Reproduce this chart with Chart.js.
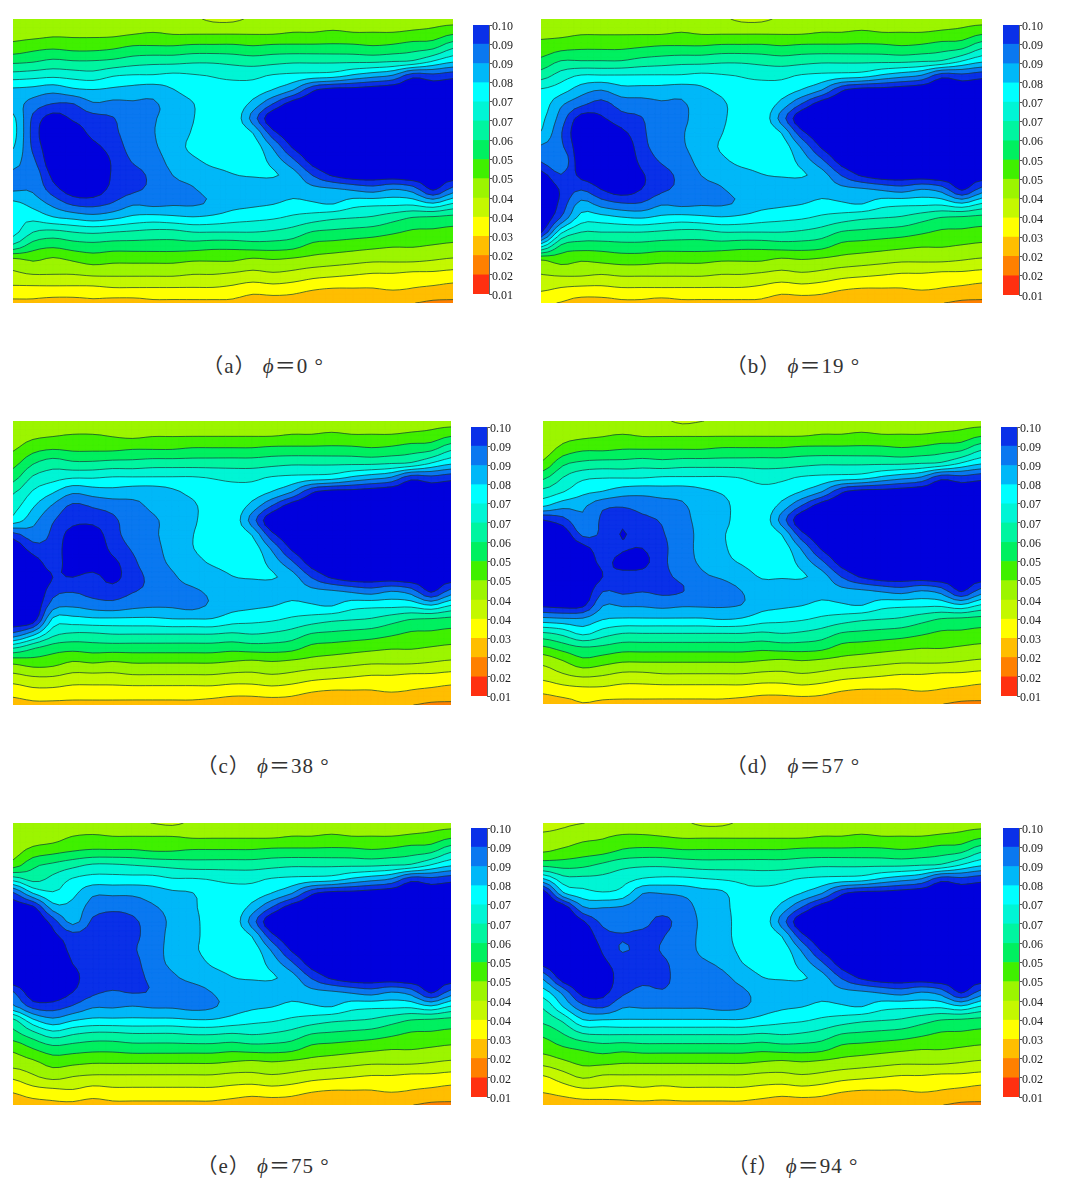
<!DOCTYPE html>
<html>
<head>
<meta charset="utf-8">
<title>Contours at six phase angles</title>
<script src="https://cdn.jsdelivr.net/npm/chart.js@4/dist/chart.umd.min.js"></script>
<style>
  html, body { margin: 0; background: #fff; }
  #page { position: relative; width: 1078px; height: 1197px; overflow: hidden; }
  #page canvas { position: absolute; }
  .field { filter: blur(0.5px); }
  .caption { position: absolute; width: 240px; text-align: center; white-space: pre; letter-spacing: 1px;
    font: 21px "Liberation Serif", "Noto Sans CJK SC", serif; color: #333; }
  .caption i { font-style: italic; }
</style>
</head>
<body>
<div id="page"></div>
<script>
var bandEdges = [10, 16.4, 22.9, 29.3, 35.7, 42.1, 48.6, 55, 61.4, 67.9, 74.3, 80.7, 87.1, 93.6, 100];
var tickLabels = ['0.01', '0.02', '0.02', '0.03', '0.04', '0.04', '0.05', '0.05', '0.06', '0.07', '0.07', '0.08', '0.09', '0.09', '0.10'];
var bandColors = ['#ff3010', '#ff8000', '#ffbe00', '#ffff00', '#c4f800', '#9cf500', '#40f000', '#00f060',
  '#00f5a0', '#00f5d5', '#00ffff', '#00b8f8', '#0a78f0', '#0a30e8'];
var coreColor = '#0000dd'; // anything over the top of the colour bar

var captionLetters = ['a', 'b', 'c', 'd', 'e', 'f'];
var phiValues = [0, 19, 38, 57, 75, 94];

// right part of the plot hardly changes between the angles (one list per column)
var wakeColumns = [
  [43,48,56,65,73,77,83,90,81,77,77,80,85,82,76,68,58,47,40,32,26],
  [43,48,57,66,75,81,94,106,98,88,83,80,85,81,75,67,58,48,41,33,26],
  [44,49,57,67,76,87,104,108,106,101,92,84,83,79,73,65,57,47,40,32,26],
  [44,49,57,67,77,99,106,110,110,107,103,94,85,80,71,61,53,46,38,30,24],
  [44,50,57,67,78,103,108,110,110,110,106,101,86,81,69,60,52,45,37,29,24],
  [44,49,57,67,82,103,108,110,110,110,108,104,88,77,68,59,51,44,36,29,25],
  [44,49,56,67,85,104,108,110,110,110,108,104,90,76,67,58,50,43,35,29,24],
  [44,49,57,68,88,105,108,110,110,110,108,104,87,76,64,56,49,43,35,30,23],
  [45,50,59,69,98,106,108,110,110,110,108,105,90,76,61,54,49,43,34,29,23],
  [46,51,60,75,96,104,108,110,110,110,108,104,101,80,60,54,48,42,34,28,22],
  [46,54,67,80,98,105,108,110,110,110,108,104,91,74,59,53,47,41,33,27,22]
];

var phi0Columns = [
  [43,46,51,60,71,82,84,79,78,80,85,88,88,79,76,76.5,66,46,41,34,28],
  [43,46,53,61,72,83,90,95,96,95,92,89,88,83,76,68,58,49,42,34,28],
  [43,47,54,63,73,85,94,103,106,105,105,102,97,89,80,66,56,47,42,34,27],
  [43,47,53,62,72,82,94,99,104,106,108,108,104,95,82,68,58,49,42,34,27],
  [43,47,53,62,71,81,88,96,98,102,106,107,104,96,84,69,59,51,43,34,28],
  [43,47,54,63,74,82,89,94,95,97,99,99,98,93,82,68,58,50,43,35,27],
  [43,48,56,65,75,83,88,89,90,91,93,96,95,88,79,67,58,50,43,35,27],
  [43,49,56,66,75,84,88,87.5,87.3,88,90,92,92,89,78,66,58,50,43,35,28],
  [43,48,56,66,76,81,84,85,85,84,85,87,89,88,79,66,58,50,43,35,28],
  [43,48,57,67,75,78,81,81,80,79,82,85,87.5,88,80,68,58,49,42,35,28],
  [41,48,57,67,74,76,76,76,76,77,79,83,85,86,79,68,57,49,42,35,28],
  [41,48,57,66,73,76,76,76,76,76,78,81,84,83,77,68,57,49,41,34,28]
];
var phi19Columns = [
  [44,47,51,57,65,75,77,79,81,88,93,103,108,108,107,101,76,48,42,37,30],
  [44,47,53,62,71,78,86,90,93,92,88,94,99,98,93,76,60,51,43,35,29],
  [44,48,54,62,75,84,92,103,106,105,105,102,94,85,78,68,58,49,43,34,27],
  [44,48,54,62,75,87,96,101,106,108,108,105,100,90,78,68,58,50,42,34,27],
  [44,48,54,62,75,83,91,96,102,107,108,108,104,93,80,68,59,51,43,35,28],
  [44,48,55,64,75,83,90,94,95,96,98,101,100,93,81,68,59,51,43,35,28],
  [44,48,56,65,75,83,88,89,90,91,93,96,95,88,79,67,58,50,43,35,27],
  [44,49,56,66,75,84,88,88,87.5,88,90,92,92,89,78,66,58,50,43,35,28],
  [43,48,56,66,76,82,84,85,85,84,85,87,89,88,79,66,58,50,43,35,28],
  [43,48,57,67,75,79,82,82,81,80,82,85,87.5,88,80,68,58,49,42,35,28],
  [41,48,57,67,74,76,77,77,77,77,79,83,85,86,79,68,57,49,42,35,28],
  [41,48,57,66,73,76,76,76,76,76,78,81,84,83,77,68,57,49,41,34,28]
];
var phi38Columns = [
  [43,45,48,53,59,67,72,77,96,106,108,110,110,110,106,92,68,50,40,32,27],
  [43,47,53,61,69,75,80,85,90,97,104,107,108,107,104,83,62,52,42,34,28],
  [43,48,55,65,72,80,88,93,95,96,97,100,96,90,79,70,58,51,42,34,28],
  [43,49,54,63,74,86,95,98,103,105,104,100,94,88,78,67,57,48,40,33,28],
  [43,49,54,63,74,84,93,98,104,106,104,98,96,90,79,67,58,49,40,33,28],
  [43,48,54,64,75,83,91,95,96,98,102,102,97,91,79,68,58,48,40,33,28],
  [43,47,55,64,75,84,89,90,91,93,95,96,94,89,79,68,58,49,41,33,28],
  [43,48,55,65,75,84,86,88,88,89,90,92,92,88,79,68,58,49,41,33,28],
  [43,48,55,65,75,82,84,85,85,85,86,88,89,88,80,68,58,49,41,33,28],
  [43,48,56,65,75,79,82,82,81,81,83,85,88,89,80,68,58,49,41,33,28],
  [43,48,56,65,74,77,77,77,77,78,80,84,86,86,80,68,58,49,41,33,27],
  [43,48,56,65,73,76,76,76,76,76,78,81,84,83,77,67,57,48,40,32,26]
];
var phi57Columns = [
  [43,43,45,50,60,70,80,100,106,108,110,110,110,102,85,67,54,44,38,31,26],
  [43,46,51,60,68,74,85,96,105,108,110,110,108,103,86,70,58,48,41,33,27],
  [43,47,54,63,73,79,86,88,92,103,107,108,106,102,86,76,61,53,43,34,29],
  [43,48,54,64,74,81,92,95,95,96,98,100,94,87.5,81,71,60,51,42,34,28],
  [43,49,55,64,74,84,93,98,100.5,99,103,97,95,88,80,68,58,49,40,33,28],
  [43,48,55,65,74,85,91,95,96,100,102,97,94,88,80,68,58,49,40,33,28],
  [43,48,55,64,75,84,90,93,94,95,95,95,95,89,80,68,58,49,41,33,28],
  [41,48,55,65,75,84,88,89,90,90,90,92,94,88,80,68,58,49,41,33,28],
  [42,48,55,65,75,82,84,85,85,85,86,88,89,88,80,68,58,49,41,33,28],
  [43,48,56,65,75,80,83,83,81.5,82,83,86.5,89,88,81,68,58,49,41,33,28],
  [43,48,56,65,74,77,77,77,77,77,80,84,87,87,80,68,58,49,41,33,27],
  [43,48,56,65,72,76,76,76,76,76,77,80,84,83,77,67,57,48,40,32,26]
];
var phi75Columns = [
  [43,44,46,52,72,95,104,108,109,110,109,106,93,86,66,59,50,45,37,30,26],
  [43,45,51,60,66,81,102,108,110,110,110,109,105,96,79,65,55,47,41,33,27],
  [43,46,53,63,70,75,84,97,102,106,107,108,105,97,85,71,59,51,44,34,28],
  [43,49,55,66,75,79,83,85,96,98,100,102,100,93,81,68,58,50,42,35,28],
  [43,50,56,69,77,86,90,95,97,98,98,97,95,88,79,66,57,49,41,33,27],
  [43,49,56,69,77,86,92,97,98,98,98,97,93,88,79,66,57,49,41,34,28],
  [43,49,56,68,77,86,91,95,95,94.5,96,96,94,87,79,67,58,49,41,34,28],
  [42,49,55,67,77,84,88,90,91,90,90,92,93,88,79,67,58,49,41,34,28],
  [41,49,55,66,75,82,85,86,85,85,86,88,89,88,79,67,58,49,41,34,28],
  [43,48,56,65,75,81,82,83,83,82,84,86,89,89,80,68,58,49,41,34,28],
  [43,48,56,65,74,77,77,77,77,78,80,84,87,88,80,68,58,49,41,34,28],
  [43,48,56,65,73,76,76,76,76,76,78,81,84,84,78,67,57,48,40,33,27]
];
var phi94Columns = [
  [39,44,48,60,82,105,109,110,110,108,102,88,78,69,63,56,51,44,35,30,25],
  [41,45,50,59,71,82,105,109,110,110,109,104,89,81,69,61,54,47,39,32,26],
  [42,47,52,60,70,77,88,101,106,109,110,108,103,92,80,67,56,50,43,34,27],
  [43,48,53,63,70,75,87,92,96,99,102,104,102,95,80,68,58,50,41,34,27],
  [43,50,56,66,72,77,88,91,94,93,97,97,95,88,80,68,57,49,41,33,28],
  [43,50,57,67,75,87,91,92,95,96,96,95,92,88,80,68,58,49,41,34,28],
  [43,49,57,67,76,87,91,95,94,93,95,95,93,88,80,68,58,49,41,33,28],
  [43,48,56,66,76,86,90,91,90,90,90,91,91,88,80,68,58,49,41,34,28],
  [41,48,56,65,75,83,85,86,86,86,88,89,90,88,80,68,58,49,41,34,28],
  [41,48,56,65,74,82,83,84,84,84,86,88.5,89,89,80,68,58,49,41,34,28],
  [43,48,56,65,73,76,77,77,77,79,81,85,88,88,80,68,58,49,41,34,28],
  [43,48,56,65,72,76,76,76,76,76,78,81,85,84,78,67,57,48,40,33,27]
];

var leftColumns = [phi0Columns, phi19Columns, phi38Columns, phi57Columns, phi75Columns, phi94Columns];

// where each panel sits on the page: plot box, colour bar, caption centre
var panelBoxes = [
  { x: 13, y: 19, w: 440, h: 284, barX: 473, barY: 25, barH: 269, capX: 263, capY: 350 },
  { x: 541, y: 19, w: 441, h: 284, barX: 1003, barY: 25, barH: 270, capX: 793, capY: 350 },
  { x: 13, y: 421, w: 438, h: 284, barX: 471, barY: 427, barH: 269, capX: 263, capY: 750 },
  { x: 543, y: 421, w: 438, h: 283, barX: 1001, barY: 427, barH: 269, capX: 793, capY: 750 },
  { x: 13, y: 823, w: 438, h: 282, barX: 471, barY: 828, barH: 269, capX: 263, capY: 1150 },
  { x: 543, y: 823, w: 438, h: 282, barX: 1003, barY: 828, barH: 269, capX: 793, capY: 1150 }
];

var drawSteps = 3; // contour tracing steps per grid cell

// Catmull-Rom weight, only used while tracing the contours
function cr(a, b, c, d, t) {
  return b + 0.5 * t * (c - a + t * (2 * a - 5 * b + 4 * c - d + t * (3 * (b - c) + d - a)));
}

function traceGrid(pts, nx, ny) {
  var at = function (i, j) {
    i = Math.max(0, Math.min(nx - 1, i));
    j = Math.max(0, Math.min(ny - 1, j));
    return pts[i * ny + j].v;
  };
  var mx = (nx - 1) * drawSteps + 1, my = (ny - 1) * drawSteps + 1;
  var out = [];
  for (var a = 0; a < mx; a++) {
    var i0 = Math.min(Math.floor(a / drawSteps), nx - 2), tx = a / drawSteps - i0;
    var col = [];
    for (var b = 0; b < my; b++) {
      var j0 = Math.min(Math.floor(b / drawSteps), ny - 2), ty = b / drawSteps - j0;
      var r = [];
      for (var k = -1; k <= 2; k++) {
        r.push(cr(at(i0 - 1, j0 + k), at(i0, j0 + k), at(i0 + 1, j0 + k), at(i0 + 2, j0 + k), tx));
      }
      col.push(cr(r[0], r[1], r[2], r[3], ty));
    }
    out.push(col);
  }
  return out;
}

// part of one grid cell at or above the level, corners given clockwise
function clipCell(xs, ys, vs, level) {
  var out = [];
  for (var k = 0; k < 4; k++) {
    var n = (k + 1) % 4;
    var inK = vs[k] >= level, inN = vs[n] >= level;
    if (inK) out.push([xs[k], ys[k]]);
    if (inK !== inN) {
      var t = (level - vs[k]) / (vs[n] - vs[k]);
      out.push([xs[k] + t * (xs[n] - xs[k]), ys[k] + t * (ys[n] - ys[k])]);
    }
  }
  return out;
}

function crossings(xs, ys, vs, level) {
  var out = [];
  for (var k = 0; k < 4; k++) {
    var n = (k + 1) % 4;
    if ((vs[k] >= level) !== (vs[n] >= level)) {
      var t = (level - vs[k]) / (vs[n] - vs[k]);
      out.push([xs[k] + t * (xs[n] - xs[k]), ys[k] + t * (ys[n] - ys[k])]);
    }
  }
  return out;
}

// paints the contour bands from the dataset through the chart's scales
var contourField = {
  id: 'contourField',
  beforeDatasetsDraw: function (chart) {
    var ctx = chart.ctx, area = chart.chartArea;
    var sx = chart.scales.x, sy = chart.scales.y;
    var grid = traceGrid(chart.data.datasets[0].data, sx.max + 1, sy.max + 1);
    var mx = grid.length, my = grid[0].length;
    var px = [], py = [];
    for (var a = 0; a < mx; a++) px.push(sx.getPixelForValue(a / drawSteps));
    for (var b = 0; b < my; b++) py.push(sy.getPixelForValue(b / drawSteps));

    ctx.save();
    ctx.beginPath();
    ctx.rect(area.left, area.top, area.width, area.height);
    ctx.clip();

    bandEdges.forEach(function (level, n) {
      ctx.fillStyle = ctx.strokeStyle = n < bandColors.length ? bandColors[n] : coreColor;
      ctx.lineWidth = 0.6;
      ctx.beginPath();
      for (var i = 0; i < mx - 1; i++) {
        for (var j = 0; j < my - 1; j++) {
          var vs = [grid[i][j], grid[i + 1][j], grid[i + 1][j + 1], grid[i][j + 1]];
          var poly = clipCell([px[i], px[i + 1], px[i + 1], px[i]], [py[j], py[j], py[j + 1], py[j + 1]], vs, level);
          if (poly.length < 3) continue;
          ctx.moveTo(poly[0][0], poly[0][1]);
          for (var p = 1; p < poly.length; p++) ctx.lineTo(poly[p][0], poly[p][1]);
          ctx.closePath();
        }
      }
      ctx.fill();
      ctx.stroke();
    });

    // contour lines on top of the bands
    ctx.strokeStyle = 'rgba(25,60,50,0.8)';
    ctx.lineWidth = 0.9;
    ctx.beginPath();
    bandEdges.forEach(function (level) {
      for (var i = 0; i < mx - 1; i++) {
        for (var j = 0; j < my - 1; j++) {
          var vs = [grid[i][j], grid[i + 1][j], grid[i + 1][j + 1], grid[i][j + 1]];
          var c = crossings([px[i], px[i + 1], px[i + 1], px[i]], [py[j], py[j], py[j + 1], py[j + 1]], vs, level);
          for (var s = 0; s + 1 < c.length; s += 2) {
            ctx.moveTo(c[s][0], c[s][1]);
            ctx.lineTo(c[s + 1][0], c[s + 1][1]);
          }
        }
      }
    });
    ctx.stroke();
    ctx.restore();
  }
};

function addCanvas(x, y, w, h, cls) {
  var canvas = document.createElement('canvas');
  canvas.width = w;
  canvas.height = h;
  canvas.style.left = x + 'px';
  canvas.style.top = y + 'px';
  canvas.style.width = w + 'px';
  canvas.style.height = h + 'px';
  if (cls) canvas.className = cls;
  document.getElementById('page').appendChild(canvas);
  return canvas;
}

function drawField(box, columns) {
  var points = [];
  columns.forEach(function (col, i) {
    col.forEach(function (v, j) { points.push({ x: i, y: j, v: v }); });
  });
  new Chart(addCanvas(box.x, box.y, box.w, box.h, 'field'), {
    type: 'scatter',
    data: { datasets: [{ data: points, pointRadius: 0, showLine: false }] },
    plugins: [contourField],
    options: {
      responsive: false,
      animation: false,
      layout: { padding: 0 },
      plugins: { legend: { display: false }, tooltip: { enabled: false } },
      scales: {
        x: { type: 'linear', display: false, min: 0, max: columns.length - 1 },
        y: { type: 'linear', display: false, min: 0, max: columns[0].length - 1, reverse: true }
      }
    }
  });
}

function drawColorBar(box) {
  var pad = 9;
  var datasets = bandColors.map(function (color, b) {
    return {
      data: [[bandEdges[b], bandEdges[b + 1]]],
      backgroundColor: color,
      borderWidth: 0,
      barPercentage: 1,
      categoryPercentage: 1
    };
  });
  new Chart(addCanvas(box.barX, box.barY - pad, 62, box.barH + pad * 2), {
    type: 'bar',
    data: { labels: ['scale'], datasets: datasets },
    options: {
      responsive: false,
      animation: false,
      layout: { padding: { top: pad, bottom: pad, left: 0, right: 0 } },
      plugins: { legend: { display: false }, tooltip: { enabled: false } },
      scales: {
        x: { display: false, stacked: true },
        y: {
          position: 'right',
          min: 10,
          max: 100,
          afterBuildTicks: function (scale) {
            scale.ticks = bandEdges.map(function (v) { return { value: v }; });
          },
          afterFit: function (scale) { scale.width = 46; },
          border: { display: true, color: '#666', width: 1 },
          grid: { drawOnChartArea: false, drawTicks: true, tickLength: 3, color: '#555' },
          ticks: {
            autoSkip: false,
            padding: 0,
            labelOffset: 1.5,
            color: '#222',
            font: { family: '"Liberation Serif", serif', size: 12 },
            callback: function (value, index) { return tickLabels[index]; }
          }
        }
      }
    }
  });
}

function addCaption(box, letter, phi) {
  var div = document.createElement('div');
  div.className = 'caption';
  div.style.left = (box.capX - 120) + 'px';
  div.style.top = (box.capY - 1) + 'px';
  div.innerHTML = '（' + letter + '） <i>ϕ</i>＝' + phi + ' °';
  document.getElementById('page').appendChild(div);
}

panelBoxes.forEach(function (box, p) {
  drawField(box, leftColumns[p].concat(wakeColumns));
  drawColorBar(box);
  addCaption(box, captionLetters[p], phiValues[p]);
});
</script>
</body>
</html>
